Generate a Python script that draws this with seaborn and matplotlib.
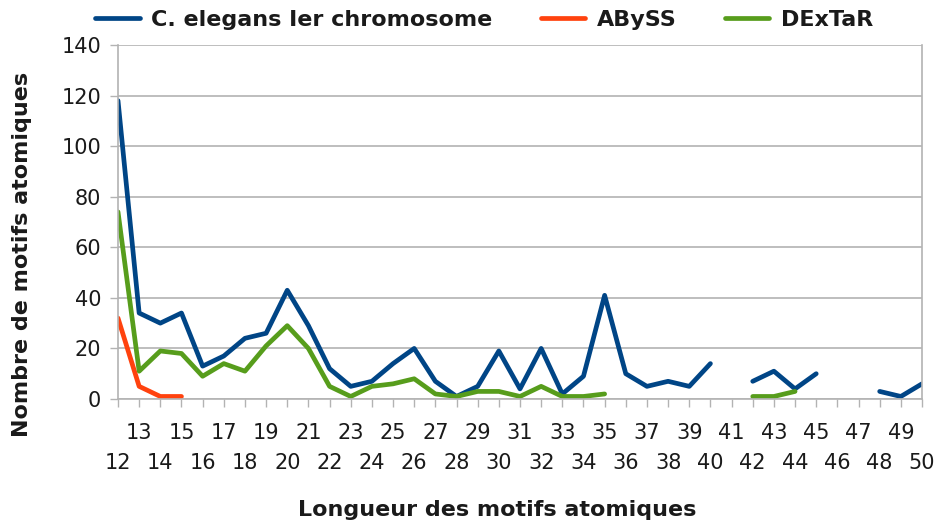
import numpy as np
import pandas as pd
import matplotlib
matplotlib.use("Agg")
import matplotlib.pyplot as plt
import seaborn as sns

lengths = list(range(12, 51))
nan = np.nan
celegans = [118, 34, 30, 34, 13, 17, 24, 26, 43, 29,
            12, 5, 7, 14, 20, 7, 1, 5, 19, 4,
            20, 2, 9, 41, 10, 5, 7, 5, 14, nan,
            7, 11, 4, 10, nan, nan, 3, 1, 6]
abyss = [32, 5, 1, 1] + [nan] * 35
dextar = [74, 11, 19, 18, 9, 14, 11, 21, 29, 20,
          5, 1, 5, 6, 8, 2, 1, 3, 3, 1,
          5, 1, 1, 2, nan, nan, nan, nan, nan, nan,
          1, 1, 3, nan, nan, nan, nan, nan, nan]
series_names = ["C. elegans Ier chromosome", "ABySS", "DExTaR"]
colors = ["#004586", "#ff420e", "#579d1c"]
yticks = [0, 20, 40, 60, 80, 100, 120, 140]

sns.set_theme(style="white")
plt.rcParams["font.family"] = ["DejaVu Sans"]


def segmented(values):
    # split series into contiguous runs so gaps stay gaps
    rows = []
    seg = 0
    prev_nan = True
    for x, v in zip(lengths, values):
        if np.isnan(v):
            prev_nan = True
            continue
        if prev_nan:
            seg += 1
        prev_nan = False
        rows.append({"x": x, "y": v, "seg": seg})
    return pd.DataFrame(rows)


fig = plt.figure(figsize=(9.38, 5.24), dpi=100)
ax = fig.add_axes([118 / 938, 1 - 399 / 524, (922 - 118) / 938, (399 - 45) / 524])

lw = 3.4
for name, col, vals in zip(series_names, colors, [celegans, abyss, dextar]):
    d = segmented(vals)
    sns.lineplot(data=d, x="x", y="y", units="seg", estimator=None, ax=ax,
                 color=col, linewidth=lw, legend=False)
    ax.plot([], [], color=col, linewidth=lw, label=name)

ax.set_xlim(12, 50)
ax.set_ylim(0, 140)
ax.set_yticks(yticks)
ax.set_yticklabels([str(v) for v in yticks])
ax.grid(axis="y", color="#b3b3b3", linewidth=1.2)
ax.set_axisbelow(True)

odd = [v for v in lengths if v % 2 == 1]
even = [v for v in lengths if v % 2 == 0]
ax.set_xticks(odd)
ax.set_xticklabels([str(v) for v in odd])
ax.set_xticks(even, minor=True)
ax.set_xticklabels([str(v) for v in even], minor=True)
ax.tick_params(axis="x", which="major", length=6, width=1, color="#b3b3b3",
               direction="out", pad=11, labelsize=15, labelcolor="#1a1a1a", bottom=True)
ax.tick_params(axis="x", which="minor", length=6, width=1, color="#b3b3b3",
               direction="out", pad=33, labelsize=15, labelcolor="#1a1a1a", bottom=True)
ax.tick_params(axis="y", length=6, width=1, color="#b3b3b3", direction="out",
               pad=6, labelsize=15, labelcolor="#1a1a1a", left=True)

for side in ["left", "right", "bottom", "top"]:
    ax.spines[side].set_color("#b3b3b3")
    ax.spines[side].set_linewidth(1.2)
ax.spines["top"].set_visible(False)

ax.set_xlabel("")
ax.set_ylabel("")
fig.text(497 / 938, 1 - 510 / 524, "Longueur des motifs atomiques", ha="center",
         va="center", fontsize=16, fontweight="bold", color="#1a1a1a")
fig.text(22 / 938, 1 - 254 / 524, "Nombre de motifs atomiques", ha="center",
         va="center", rotation=90, fontsize=16, fontweight="bold", color="#1a1a1a")

handles, labels = ax.get_legend_handles_labels()
fig.legend(handles, labels, loc="center", bbox_to_anchor=(484 / 938, 1 - 20 / 524),
           ncol=3, frameon=False, prop={"size": 16, "weight": "bold"},
           handlelength=2.0, handletextpad=0.5, columnspacing=2.2, labelcolor="#1a1a1a")

fig.savefig("out.png", dpi=100)
